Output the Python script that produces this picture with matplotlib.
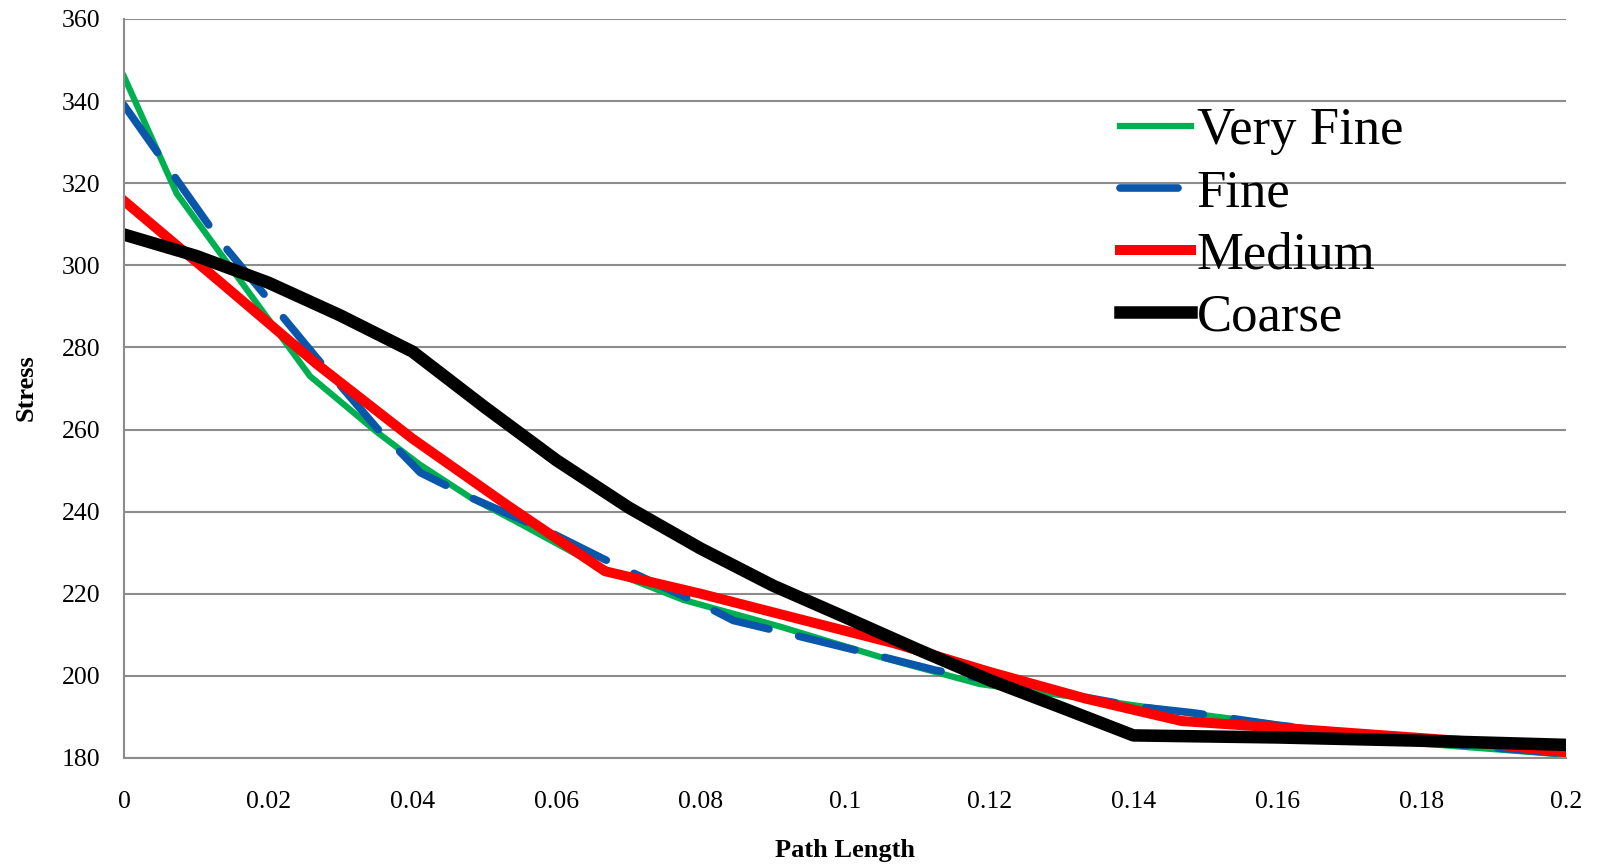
import matplotlib
matplotlib.use("Agg")
import matplotlib.pyplot as plt

# Stress along the path for four mesh refinements
very_fine_x = [0, 0.0073, 0.0258, 0.035, 0.041, 0.048, 0.0545, 0.066, 0.0776,
               0.091, 0.1049, 0.1187, 0.1354, 0.15, 0.165, 0.18, 0.2]
very_fine_y = [346, 317.5, 273, 259.5, 251.5, 243.5, 237.5, 226.5, 218.5,
               212, 204.6, 198, 194, 190.4, 187, 183.5, 180.8]

fine_x = [0, 0.0133, 0.0267, 0.035, 0.0411, 0.048, 0.0591, 0.0665, 0.0702,
          0.0813, 0.0845, 0.0928, 0.1044, 0.1125, 0.127, 0.1405, 0.1483,
          0.16, 0.18, 0.2]
fine_y = [339, 306, 277.5, 260.5, 249.5, 243.5, 235, 228.5, 225.4,
          216.4, 213.5, 210, 205, 201.4, 196.8, 192.5, 191,
          188, 184, 181]

medium_x = [0, 0.0133, 0.0267, 0.04, 0.0533, 0.0667, 0.08, 0.0933, 0.1067,
            0.12, 0.1333, 0.1467, 0.16, 0.1733, 0.1867, 0.2]
medium_y = [315.7, 296, 276, 257.8, 241.4, 225.5, 220, 214, 208,
            201, 194.5, 189, 187.4, 185.7, 184, 181.4]

coarse_x = [0, 0.01, 0.02, 0.03, 0.04, 0.05, 0.06, 0.07, 0.08, 0.09, 0.1,
            0.11, 0.12, 0.13, 0.14, 0.16, 0.18, 0.2]
coarse_y = [307.5, 302.3, 295.8, 287.8, 279, 265.5, 252.5, 241, 231, 222,
            214.3, 206.5, 199, 192.3, 185.5, 185, 184.2, 183.2]

series_names = ["Very Fine", "Fine", "Medium", "Coarse"]

x_ticks = [0, 0.02, 0.04, 0.06, 0.08, 0.1, 0.12, 0.14, 0.16, 0.18, 0.2]
x_tick_labels = ["0", "0.02", "0.04", "0.06", "0.08", "0.1", "0.12", "0.14",
                 "0.16", "0.18", "0.2"]
y_ticks = [180, 200, 220, 240, 260, 280, 300, 320, 340, 360]

plt.rcParams["font.family"] = ["Liberation Serif", "DejaVu Serif"]

fig = plt.figure(figsize=(15.99, 8.65), dpi=100)
ax = fig.add_axes([124 / 1599, 1 - 758 / 865, (1566 - 124) / 1599, (758 - 19) / 865])

grid_color = "#8c8c8c"

ax.plot(very_fine_x, very_fine_y, color="#00b050", lw=4.5,
        solid_joinstyle="round", label=series_names[0])
ax.plot(fine_x, fine_y, color="#0a56aa", lw=5.5, linestyle=(0, (7.6, 4.0)),
        dash_capstyle="round", dash_joinstyle="round", label=series_names[1])
ax.plot(medium_x, medium_y, color="#ff0000", lw=7.2,
        solid_joinstyle="round", label=series_names[2])
ax.plot(coarse_x, coarse_y, color="#000000", lw=9,
        solid_joinstyle="round", label=series_names[3])

ax.set_xlim(0, 0.2)
ax.set_ylim(180, 360)
ax.set_xticks(x_ticks)
ax.set_xticklabels(x_tick_labels)
ax.set_yticks(y_ticks)
ax.tick_params(axis="both", length=0, labelsize=18.5)
ax.tick_params(axis="x", pad=24)
ax.tick_params(axis="y", pad=17)

ax.grid(axis="y", color=grid_color, lw=1.5)
ax.set_axisbelow(True)
for side in ("top", "right"):
    ax.spines[side].set_visible(False)
for side in ("left", "bottom"):
    ax.spines[side].set_color(grid_color)
    ax.spines[side].set_linewidth(1.5)

fig.text(845 / 1599, 1 - 851 / 865, "Path Length", ha="center", va="center",
         fontsize=19, fontweight="bold")
fig.text(26 / 1599, 1 - 388 / 865, "Stress", ha="center", va="center",
         rotation=90, fontsize=19, fontweight="bold")

leg = ax.legend(loc="upper left", bbox_to_anchor=(1120 / 1599, 1 - 107 / 865),
                bbox_transform=fig.transFigure, frameon=False, fontsize=38,
                handlelength=1.35, handletextpad=0.1, labelspacing=0.27,
                borderpad=0, borderaxespad=0)

fig.savefig("out.png", dpi=100)
